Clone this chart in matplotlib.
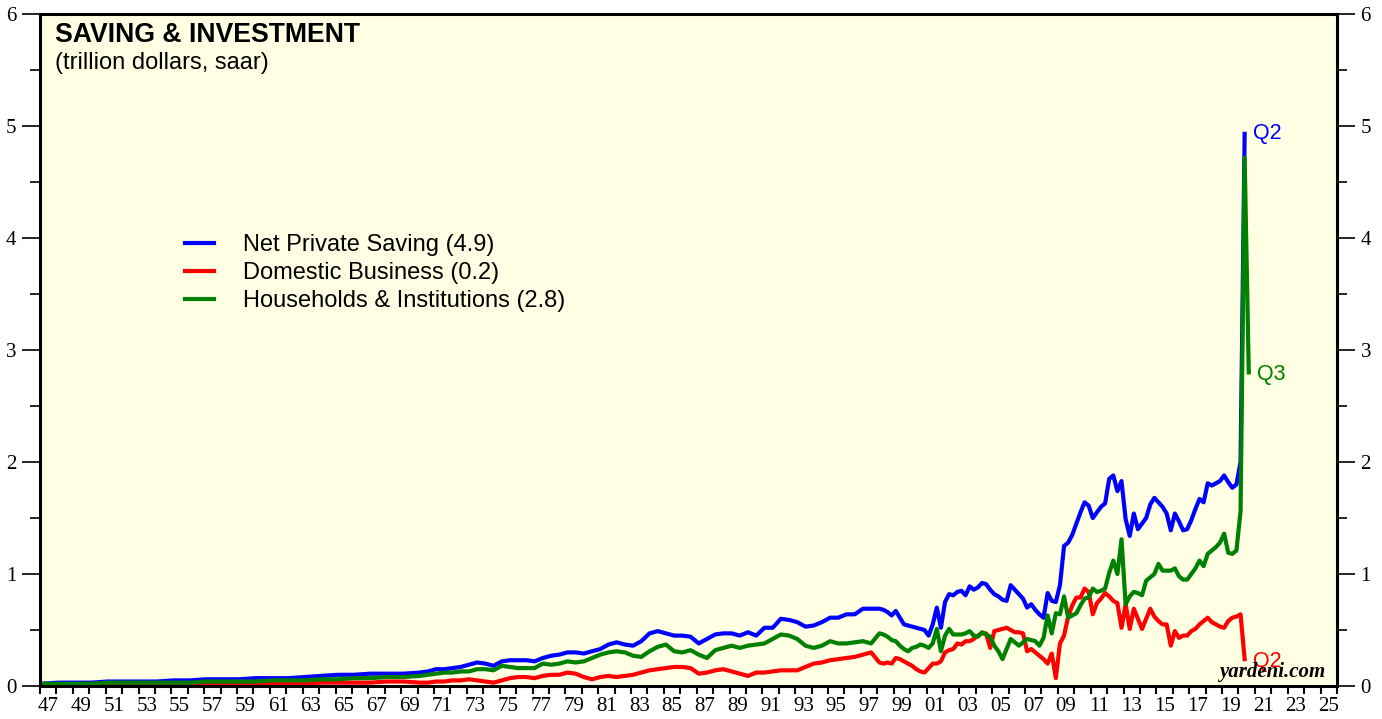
import numpy as np
import matplotlib.pyplot as plt
from matplotlib.ticker import MultipleLocator, FixedLocator, NullFormatter

# trillion dollars, saar
# annual 1947-1969, half-yearly 1970-1997, quarterly 1998 Q1 - 2020 Q3
saving_early = [0.02, 0.03, 0.03, 0.03, 0.04, 0.04, 0.04, 0.04, 0.05, 0.05, 0.06, 0.06,
                0.06, 0.07, 0.07, 0.07, 0.08, 0.09, 0.10, 0.10, 0.11, 0.11, 0.11]
business_early = [0.00, 0.01, 0.00, 0.01, 0.01, 0.01, 0.01, 0.01, 0.01, 0.01, 0.01, 0.01,
                  0.01, 0.01, 0.02, 0.02, 0.02, 0.03, 0.03, 0.03, 0.03, 0.04, 0.04]
household_early = [0.02, 0.02, 0.02, 0.02, 0.03, 0.03, 0.03, 0.03, 0.03, 0.03, 0.04, 0.04,
                   0.04, 0.04, 0.05, 0.05, 0.05, 0.06, 0.06, 0.07, 0.07, 0.08, 0.08]

saving_mid = [0.12, 0.13, 0.15, 0.15, 0.16, 0.17, 0.19, 0.21, 0.20, 0.18,
              0.22, 0.23, 0.23, 0.23, 0.22, 0.25, 0.27, 0.28, 0.30, 0.30,
              0.29, 0.31, 0.33, 0.37, 0.39, 0.37, 0.36, 0.40, 0.47, 0.49,
              0.47, 0.45, 0.45, 0.44, 0.38, 0.42, 0.46, 0.47, 0.47, 0.45,
              0.48, 0.45, 0.52, 0.52, 0.60, 0.59, 0.57, 0.53, 0.54, 0.57,
              0.61, 0.61, 0.64, 0.64, 0.69, 0.69]
business_mid = [0.03, 0.03, 0.04, 0.04, 0.05, 0.05, 0.06, 0.05, 0.04, 0.03,
                0.05, 0.07, 0.08, 0.08, 0.07, 0.09, 0.10, 0.10, 0.12, 0.11,
                0.08, 0.06, 0.08, 0.09, 0.08, 0.09, 0.10, 0.12, 0.14, 0.15,
                0.16, 0.17, 0.17, 0.16, 0.11, 0.12, 0.14, 0.15, 0.13, 0.11,
                0.09, 0.12, 0.12, 0.13, 0.14, 0.14, 0.14, 0.17, 0.20, 0.21,
                0.23, 0.24, 0.25, 0.26, 0.28, 0.30]
household_mid = [0.09, 0.10, 0.11, 0.12, 0.12, 0.13, 0.13, 0.15, 0.15, 0.14,
                 0.18, 0.17, 0.16, 0.16, 0.16, 0.20, 0.19, 0.20, 0.22, 0.21,
                 0.22, 0.25, 0.28, 0.30, 0.31, 0.30, 0.27, 0.26, 0.31, 0.35,
                 0.37, 0.31, 0.30, 0.32, 0.28, 0.25, 0.32, 0.34, 0.36, 0.34,
                 0.36, 0.37, 0.38, 0.42, 0.46, 0.45, 0.42, 0.36, 0.34, 0.36,
                 0.40, 0.38, 0.38, 0.39, 0.40, 0.38]

saving_late = [0.69, 0.68, 0.66, 0.63,  0.67, 0.61, 0.55, 0.54,
               0.53, 0.52, 0.51, 0.50,  0.45, 0.55, 0.70, 0.52,
               0.75, 0.82, 0.81, 0.84,  0.85, 0.81, 0.89, 0.86,
               0.88, 0.92, 0.91, 0.86,  0.82, 0.80, 0.77, 0.76,
               0.90, 0.86, 0.82, 0.78,  0.70, 0.73, 0.68, 0.64,
               0.61, 0.83, 0.76, 0.75,  0.90, 1.25, 1.28, 1.35,
               1.45, 1.55, 1.64, 1.61,  1.50, 1.55, 1.60, 1.63,
               1.85, 1.88, 1.74, 1.83,  1.49, 1.34, 1.54, 1.40,
               1.45, 1.50, 1.62, 1.68,  1.64, 1.60, 1.54, 1.39,
               1.54, 1.47, 1.39, 1.40,  1.48, 1.58, 1.67, 1.64,
               1.81, 1.79, 1.81, 1.83,  1.88, 1.82, 1.77, 1.80,
               2.00, 4.93]
business_late = [0.21, 0.20, 0.21, 0.20,  0.25, 0.24, 0.22, 0.20,
                 0.18, 0.15, 0.13, 0.12,  0.16, 0.20, 0.20, 0.22,
                 0.30, 0.32, 0.33, 0.38,  0.37, 0.40, 0.40, 0.42,
                 0.45, 0.47, 0.47, 0.34,  0.49, 0.50, 0.51, 0.52,
                 0.50, 0.48, 0.48, 0.47,  0.31, 0.33, 0.30, 0.27,
                 0.24, 0.20, 0.29, 0.07,  0.38, 0.45, 0.62, 0.72,
                 0.79, 0.79, 0.87, 0.84,  0.64, 0.74, 0.78, 0.83,
                 0.80, 0.76, 0.74, 0.52,  0.73, 0.51, 0.69, 0.60,
                 0.51, 0.60, 0.69, 0.62,  0.58, 0.55, 0.55, 0.36,
                 0.49, 0.43, 0.45, 0.45,  0.49, 0.51, 0.55, 0.58,
                 0.61, 0.57, 0.55, 0.53,  0.52, 0.58, 0.61, 0.62,
                 0.64, 0.24]
household_late = [0.47, 0.46, 0.44, 0.41,  0.40, 0.36, 0.33, 0.31,
                  0.34, 0.35, 0.37, 0.36,  0.34, 0.38, 0.51, 0.31,
                  0.45, 0.51, 0.46, 0.46,  0.46, 0.47, 0.49, 0.45,
                  0.44, 0.48, 0.46, 0.44,  0.36, 0.31, 0.24, 0.33,
                  0.42, 0.39, 0.36, 0.39,  0.42, 0.41, 0.40, 0.36,
                  0.43, 0.63, 0.47, 0.65,  0.64, 0.80, 0.61, 0.63,
                  0.65, 0.72, 0.78, 0.79,  0.87, 0.84, 0.85, 0.87,
                  1.01, 1.12, 1.00, 1.31,  0.73, 0.80, 0.84, 0.83,
                  0.81, 0.94, 0.97, 1.00,  1.09, 1.03, 1.03, 1.03,
                  1.05, 0.98, 0.95, 0.95,  1.00, 1.05, 1.12, 1.07,
                  1.18, 1.21, 1.24, 1.28,  1.36, 1.19, 1.18, 1.21,
                  1.56, 4.72, 2.80]

labels = ['Net Private Saving (4.9)', 'Domestic Business (0.2)',
          'Households & Institutions (2.8)']
colors = ['#0000FF', '#FF0000', '#008000']
end_tags = ['Q2', 'Q2', 'Q3']

dates = np.concatenate([np.arange(1947, 1970) + 0.125,
                        np.arange(1970, 1998, 0.5) + 0.125,
                        np.arange(1998, 2020.7, 0.25) + 0.125])

series = [saving_early + saving_mid + saving_late,
          business_early + business_mid + business_late,
          household_early + household_mid + household_late]

sans = ['Liberation Sans', 'DejaVu Sans']
serif = ['Liberation Serif', 'DejaVu Serif']

fig = plt.figure(figsize=(13.82, 7.19), dpi=100)
ax = fig.add_axes([40 / 1382, 33 / 719, 1297 / 1382, 672 / 719])
ax.set_facecolor('#FFFFE3')

for vals, col, lab in zip(series, colors, labels):
    ax.plot(dates[:len(vals)], vals, color=col, lw=3.0, label=lab,
            solid_joinstyle='round')

# end-point tags
tag_order = [(series[0], colors[0], end_tags[0], 0),
             (series[2], colors[2], end_tags[2], -2),
             (series[1], colors[1], end_tags[1], -2)]
for vals, col, tag, dy in tag_order:
    ax.annotate(tag, (dates[len(vals) - 1], vals[-1]), xytext=(8, dy),
                textcoords='offset pixels', color=col, fontsize=15.5,
                family=sans, va='center', ha='left')

ax.set_xlim(1947, 2026)
ax.set_ylim(0, 6)

ax.xaxis.set_major_locator(MultipleLocator(1))
ax.xaxis.set_major_formatter(NullFormatter())
odd_years = np.arange(1947, 2026, 2)
ax.xaxis.set_minor_locator(FixedLocator(odd_years + 0.5))
ax.set_xticklabels([f'{y % 100:02d}' for y in odd_years], minor=True)
ax.tick_params(axis='x', which='major', direction='out', length=6, width=1.5)
ax.tick_params(axis='x', which='minor', length=0, pad=8)

ax.yaxis.set_major_locator(MultipleLocator(1))
ax.yaxis.set_minor_locator(MultipleLocator(0.5))
ax.tick_params(axis='y', which='major', direction='out', length=13, width=1.2,
               left=True, right=True, labelleft=True, labelright=True, pad=4)
ax.tick_params(axis='y', which='minor', direction='out', length=7, width=1.2,
               left=True, right=True)

for lab in ax.get_xticklabels(minor=True) + ax.get_yticklabels():
    lab.set_family(serif)
    lab.set_fontsize(15)
for t in ax.yaxis.get_major_ticks():
    t.label2.set_family(serif)
    t.label2.set_fontsize(15)

for side in ['left', 'right', 'top', 'bottom']:
    ax.spines[side].set_linewidth(2.2)

ax.text(0.0116, 0.958, 'SAVING & INVESTMENT', transform=ax.transAxes,
        fontsize=19.2, fontweight='bold', family=sans, va='baseline')
ax.text(0.0116, 0.918, '(trillion dollars, saar)', transform=ax.transAxes,
        fontsize=17, family=sans, va='baseline')

ax.legend(loc='upper left', bbox_to_anchor=(0.1025, 0.690), frameon=False,
          prop={'family': sans, 'size': 17}, handlelength=1.25,
          handletextpad=1.2, labelspacing=0.26, borderpad=0)

ax.text(0.991, 0.013, 'yardeni.com', transform=ax.transAxes, ha='right',
        va='baseline', fontsize=15, fontweight='bold', style='italic',
        family=serif)

fig.savefig('out.png', dpi=100)
